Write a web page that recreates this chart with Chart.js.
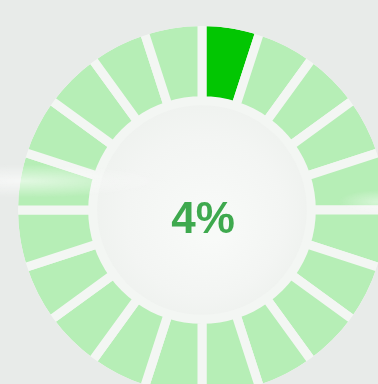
<!DOCTYPE html>
<html>
<head>
<meta charset="utf-8">
<script src="https://cdn.jsdelivr.net/npm/chart.js@4/dist/chart.umd.min.js"></script>
<style>
  html, body {
    margin: 0;
    padding: 0;
    width: 378px;
    height: 384px;
    overflow: hidden;
    background: #e8ebe9;
  }
  body { position: relative; }
  #wrap {
    position: absolute;
    left: 9px;
    top: 17px;
    width: 386px;
    height: 386px;
  }
  /* soft light streak across the left of the ring */
  #sheen {
    position: absolute;
    left: 0;
    top: 0;
    width: 378px;
    height: 384px;
    pointer-events: none;
    background:
      radial-gradient(ellipse 150px 17px at 20px 181px, rgba(255,255,255,0.6), rgba(255,255,255,0)),
      radial-gradient(ellipse 40px 12px at 378px 202px, rgba(255,255,255,0.45), rgba(255,255,255,0));
  }
</style>
</head>
<body>
<div id="wrap"><canvas id="ring"></canvas></div>
<div id="sheen"></div>
<script>
// Progress ring: twenty equal segments, lit ones reach the current percentage.
const segmentLabels = ['1','2','3','4','5','6','7','8','9','10','11','12','13','14','15','16','17','18','19','20'];
const segmentValues = [1, 1, 1, 1, 1, 1, 1, 1, 1, 1, 1, 1, 1, 1, 1, 1, 1, 1, 1, 1];
const progressPercent = [4];

const litColor = '#02c602';
const idleColor = '#b6eeb6';
const gapColor = '#f3f6f3';
const gapWidth = 9;

const total = segmentValues.reduce((a, b) => a + b, 0);
const percent = progressPercent[0];
// A segment lights up once the progress reaches into its share of the ring.
let covered = 0;
const segmentColors = segmentValues.map(v => {
  const startPct = covered / total * 100;
  covered += v;
  return percent > startPct ? litColor : idleColor;
});

const centerPlugin = {
  id: 'centerPlugin',
  beforeDatasetsDraw(chart) {
    const arc = chart.getDatasetMeta(0).data[0];
    if (!arc) return;
    const { ctx } = chart;
    const r = arc.innerRadius;
    const g = ctx.createRadialGradient(arc.x + 10, arc.y + 20, 10, arc.x, arc.y, r);
    g.addColorStop(0, '#f8faf8');
    g.addColorStop(0.7, '#f3f5f3');
    g.addColorStop(1, '#eff2ef');
    ctx.save();
    ctx.beginPath();
    ctx.arc(arc.x, arc.y, r, 0, Math.PI * 2);
    ctx.fillStyle = g;
    ctx.fill();
    ctx.restore();
  },
  afterDatasetsDraw(chart) {
    const arc = chart.getDatasetMeta(0).data[0];
    if (!arc) return;
    const { ctx } = chart;
    // remove the outer half of the segment borders so only the gaps stay light
    ctx.save();
    ctx.globalCompositeOperation = 'destination-out';
    ctx.beginPath();
    ctx.arc(arc.x, arc.y, arc.outerRadius + 1, 0, Math.PI * 2);
    ctx.lineWidth = gapWidth + 2;
    ctx.strokeStyle = '#000';
    ctx.stroke();
    ctx.restore();

    ctx.save();
    ctx.font = 'bold 44px "Liberation Sans", Arial, sans-serif';
    ctx.fillStyle = '#3ea94e';
    ctx.textAlign = 'center';
    ctx.textBaseline = 'alphabetic';
    ctx.fillText(percent + '%', arc.x + 1, arc.y + 23);
    ctx.restore();
  }
};

new Chart(document.getElementById('ring'), {
  type: 'doughnut',
  data: {
    labels: segmentLabels,
    datasets: [{
      data: segmentValues,
      backgroundColor: segmentColors,
      borderColor: gapColor,
      borderWidth: gapWidth,
      hoverOffset: 0,
      hoverBorderWidth: gapWidth
    }]
  },
  options: {
    responsive: true,
    maintainAspectRatio: false,
    animation: false,
    cutout: '58%',
    rotation: 0,
    layout: { padding: 0 },
    plugins: {
      legend: { display: false },
      tooltip: { enabled: false }
    },
    events: []
  },
  plugins: [centerPlugin]
});
</script>
</body>
</html>
